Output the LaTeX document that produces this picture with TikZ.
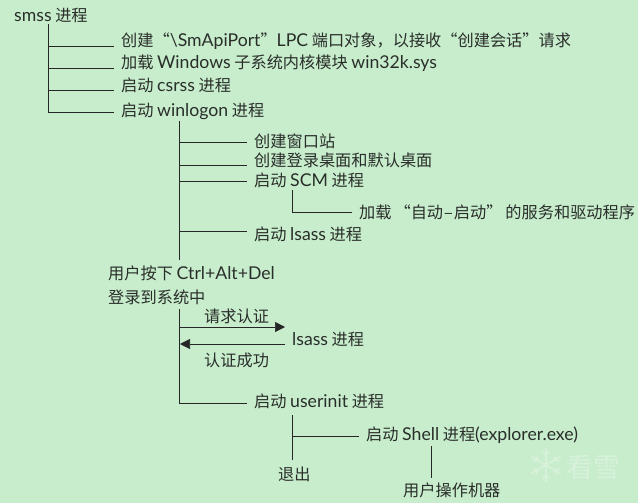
\documentclass[tikz,border=0pt]{standalone}
\usepackage{fontspec}
\setmainfont{Noto Sans CJK SC}
\newfontfamily\latinfont[Scale=1.09]{Lato}
\newcommand{\la}[1]{{\latinfont #1}}
\usetikzlibrary{arrows.meta}
\definecolor{paper}{HTML}{C7EDCC}
\definecolor{ink}{HTML}{2A2E2A}
\definecolor{wmark}{HTML}{D8F1DB}
\tikzset{
    txt/.style={anchor=west, inner xsep=7pt, inner ysep=0pt, text=ink, font=\fontsize{16.2}{18}\selectfont},
    conn/.style={draw=black!85, line width=0.7pt},
    flow/.style={conn, -{Triangle[length=10pt,width=10pt]}},
}
\begin{document}
\begin{tikzpicture}[x=1pt, y=-1pt]
    % Page
    \fill[paper] (0,0) rectangle (638,503);
    \useasboundingbox (0,0) rectangle (638,503);

    % First level
    \node[txt] (smss) at (7,15) {\la{smss} 进程};
    \node[txt] (port) at (114,41) {创建“\la{\textbackslash SmApiPort}”\la{LPC} 端口对象，以接收“创建会话”请求};
    \node[txt] (win32k) at (114,63) {加载 \la{Windows} 子系统内核模块 \la{win32k.sys}};
    \node[txt] (csrss) at (114,85) {启动 \la{csrss} 进程};
    \node[txt] (winlogon) at (114,111) {启动 \la{winlogon} 进程};

    \coordinate (smsstop) at (48,24);
    \coordinate (smssbot) at (48,112);
    \draw[conn] (smsstop) -- (smssbot);
    \foreach \name/\y in {port/46, win32k/68, csrss/90, winlogon/112} {
        \coordinate (j\name) at (48,\y);
        \draw[conn] (j\name) -- (j\name -| \name.west);
    }

    % Children of winlogon
    \node[txt] (station) at (247,141) {创建窗口站};
    \node[txt] (desktop) at (247,160) {创建登录桌面和默认桌面};
    \node[txt] (scm) at (247,180) {启动 \la{SCM} 进程};
    \node[txt] (lsass) at (247,234) {启动 \la{lsass} 进程};
    \node[txt] (autostart) at (352,212) {加载\hspace{3pt}“自动\hspace{1pt}–\hspace{1pt}启动”\hspace{3pt}的服务和驱动程序};

    \coordinate (logontop) at (179.5,121);
    \coordinate (logonbot) at (179.5,260);
    \draw[conn] (logontop) -- (logonbot);
    \foreach \name/\y in {station/142, desktop/165, scm/181, lsass/231} {
        \coordinate (j\name) at (179.5,\y);
        \draw[conn] (j\name) -- (j\name -| \name.west);
    }
    \coordinate (scmtop) at (292,190);
    \draw[conn] (scmtop) |- (autostart.west);

    % User logs on
    \node[txt] (keys) at (101,273) {用户按下 \la{Ctrl+Alt+Del}};
    \node[txt] (logon) at (101,297) {登录到系统中};
    \node[txt] (request) at (197,316) {请求认证};
    \node[txt] (lsassb) at (285,339) {\la{lsass} 进程};
    \node[txt] (success) at (197,360) {认证成功};
    \node[txt] (userinit) at (247,401) {启动 \la{userinit} 进程};

    \coordinate (authtop) at (179.5,309);
    \coordinate (authbot) at (179.5,403);
    \draw[conn] (authtop) -- (authbot) -- (authbot -| userinit.west);
    \coordinate (reqstart) at (179.5,327);
    \coordinate (reqend) at (285,327);
    \coordinate (resstart) at (285,344);
    \coordinate (resend) at (180,344);
    \draw[flow] (reqstart) -- (reqend);
    \draw[flow] (resstart) -- (resend);

    % Shell
    \node[txt] (shell) at (359,435) {启动 \la{Shell} 进程\la{(explorer.exe)}};
    \node[txt] (quit) at (271,474) {退出};
    \node[txt] (user) at (396,490) {用户操作机器};

    \coordinate (inittop) at (292,415);
    \coordinate (initbot) at (292,460);
    \coordinate (jshell) at (292,436);
    \coordinate (shelltop) at (431.5,446);
    \coordinate (shellbot) at (431.5,478);
    \draw[conn] (inittop) -- (initbot);
    \draw[conn] (jshell) -- (jshell -| shell.west);
    \draw[conn] (shelltop) -- (shellbot);

    % Watermark
    \coordinate (flake) at (546,465);
    \foreach \a in {0,60,...,300} {
        \draw[wmark, line width=1.6pt] (flake) -- ++(\a+30:17);
        \draw[wmark, line width=1.2pt] (flake) ++(\a+30:9) -- ++(\a+65:6);
        \draw[wmark, line width=1.2pt] (flake) ++(\a+30:9) -- ++(\a-5:6);
    }
    \node[anchor=west, inner sep=0pt, text=wmark, font=\fontsize{27}{29}\selectfont] (kanxue) at (566,467) {看雪};
\end{tikzpicture}
\end{document}
